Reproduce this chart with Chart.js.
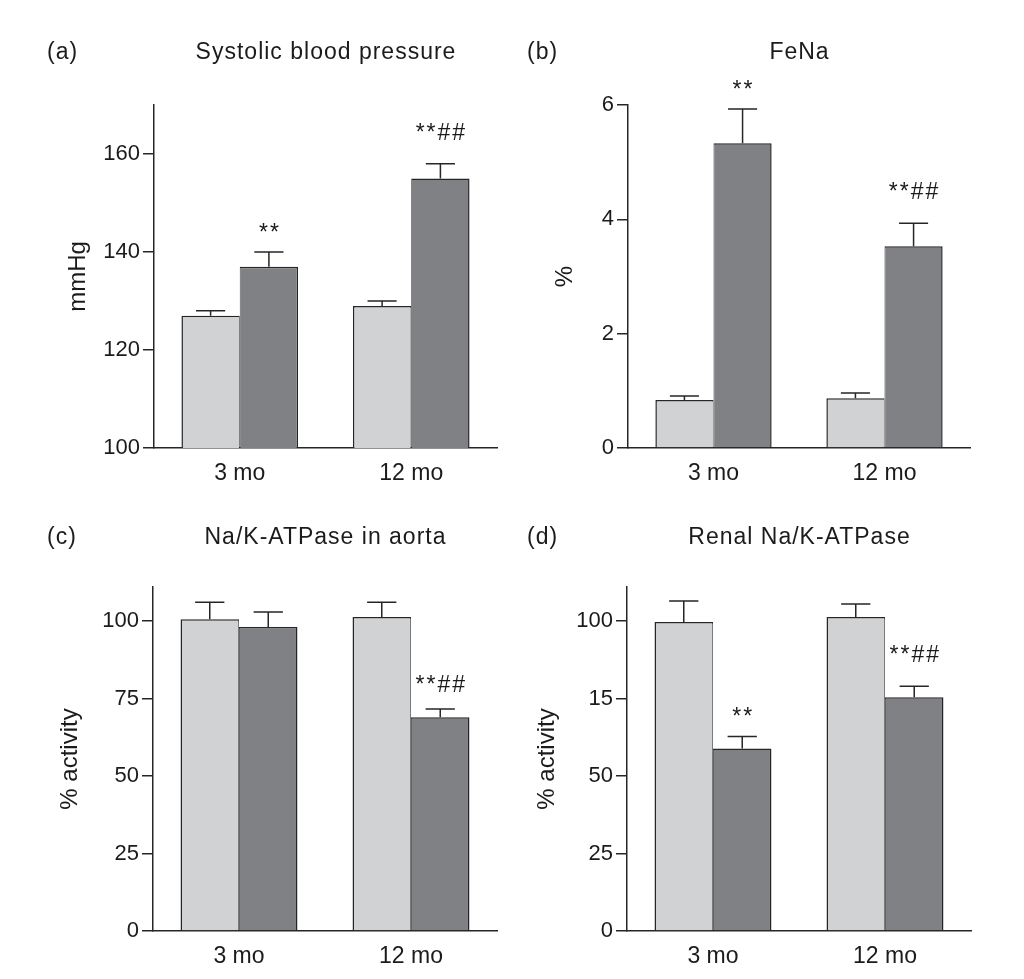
<!DOCTYPE html>
<html><head><meta charset="utf-8">
<script src="https://cdn.jsdelivr.net/npm/chart.js@4.4.0/dist/chart.umd.min.js"></script>
<style>
html,body{margin:0;padding:0;background:#fff;}
#wrap{position:relative;width:1024px;height:979px;overflow:hidden;background:#fff;}
canvas{position:absolute;}
</style></head><body><div id="wrap">
<canvas id="ca" width="512" height="490" style="left:0px;top:0px"></canvas>
<canvas id="cb" width="512" height="490" style="left:512px;top:0px"></canvas>
<canvas id="cc" width="512" height="490" style="left:0px;top:489px"></canvas>
<canvas id="cd" width="512" height="490" style="left:512px;top:489px"></canvas>
</div>
<script>
// ---------- data ----------
const categories = ['3 mo', '12 mo'];

const sbpControl = [127, 129];
const sbpControlErr = [1, 1];
const sbpModel = [137, 155];
const sbpModelErr = [3, 3];
const sbpMarks = ['**', '**##'];
const sbpTicks = [100, 120, 140, 160];

const fenaControl = [0.84, 0.87];
const fenaControlErr = [0.07, 0.09];
const fenaModel = [5.33, 3.53];
const fenaModelErr = [0.6, 0.4];
const fenaMarks = ['**', '**##'];
const fenaTicks = [0, 2, 4, 6];

const aortaControl = [100.6, 101.3];
const aortaControlErr = [5.5, 4.8];
const aortaModel = [98.1, 69.0];
const aortaModelErr = [4.8, 2.6];
const aortaMarks = ['', '**##'];
const aortaTicks = [0, 25, 50, 75, 100];

const renalControl = [99.7, 101.3];
const renalControlErr = [6.8, 4.2];
const renalModel = [58.9, 75.4];
const renalModelErr = [3.9, 3.6];
const renalMarks = ['**', '**##'];
const renalTicks = [0, 25, 50, 75, 100];
const renalTickLabels = ['0', '25', '50', '15', '100'];

// ---------- style ----------
const TEXT = '#1c1a1b', LINE = '#262626', LIGHT = '#d1d2d4', DARK = '#808184';
const FONT = "'Liberation Sans', Arial, Helvetica, sans-serif";

const decoPlugin = {
  id: 'deco',
  afterDatasetsDraw(chart, args, o) {
    const ctx = chart.ctx, ys = chart.scales.y;
    ctx.save();
    chart.data.datasets.forEach((ds, di) => {
      const meta = chart.getDatasetMeta(di);
      meta.data.forEach((el, i) => {
        const top = ys.getPixelForValue(ds.data[i] + ds.errors[i]);
        const half = el.width * 0.25;
        ctx.strokeStyle = LINE; ctx.lineWidth = 1.5;
        ctx.beginPath();
        ctx.moveTo(el.x, el.y); ctx.lineTo(el.x, top);
        ctx.moveTo(el.x - half, top); ctx.lineTo(el.x + half, top);
        ctx.stroke();
        const mark = ds.marks ? ds.marks[i] : '';
        if (mark) {
          ctx.font = '23px ' + FONT;
          ctx.fillStyle = TEXT;
          ctx.textAlign = 'center';
          ctx.textBaseline = 'alphabetic';
          try { ctx.letterSpacing = '2px'; } catch (e) {}
          const gap = mark.indexOf('#') >= 0 ? o.gapDouble : o.gapSingle;
          ctx.fillText(mark, el.x + 1, top - gap);
          try { ctx.letterSpacing = '0px'; } catch (e) {}
        }
      });
    });
    ctx.restore();
  },
  afterDraw(chart, args, o) {
    const ctx = chart.ctx, ca = chart.chartArea;
    ctx.save();
    ctx.fillStyle = TEXT;
    ctx.font = '23px ' + FONT;
    ctx.textBaseline = 'middle';
    try { ctx.letterSpacing = '1px'; } catch (e) {}
    ctx.textAlign = 'left';
    ctx.fillText(o.letter, o.letterX, o.titleY);
    ctx.textAlign = 'center';
    ctx.fillText(o.title, (ca.left + ca.right) / 2 + 0.5, o.titleY);
    try { ctx.letterSpacing = '0px'; } catch (e) {}
    ctx.restore();
  }
};

function makePanel(id, p) {
  const W = 512, H = 490, XH = 40;
  new Chart(document.getElementById(id), {
    type: 'bar',
    data: {
      labels: categories,
      datasets: [
        { data: p.control, errors: p.controlErr, marks: null,
          backgroundColor: LIGHT, borderColor: LINE,
          borderWidth: { top: 1.5, left: 1.5, right: 0.75, bottom: 0 }, borderSkipped: false },
        { data: p.model, errors: p.modelErr, marks: p.marks,
          backgroundColor: DARK, borderColor: LINE,
          borderWidth: { top: 1.5, left: 0.75, right: 1.5, bottom: 0 }, borderSkipped: false }
      ]
    },
    options: {
      responsive: false,
      animation: false,
      events: [],
      layout: { padding: { left: 0, right: W - p.area.r, top: p.area.t, bottom: H - p.area.b - XH } },
      plugins: {
        legend: { display: false },
        tooltip: { enabled: false },
        title: { display: false },
        deco: { letter: p.letter, letterX: p.letterX, title: p.title, titleY: p.titleY,
                gapSingle: p.gapSingle, gapDouble: p.gapDouble }
      },
      datasets: { bar: { categoryPercentage: 0.68, barPercentage: 1.0 } },
      scales: {
        x: {
          type: 'category',
          offset: true,
          grid: { display: false, drawTicks: false },
          border: { display: true, color: LINE, width: 1.5 },
          ticks: { color: TEXT, font: { family: FONT, size: 23 }, padding: 12, maxRotation: 0 },
          afterFit(s) { s.height = XH; }
        },
        y: {
          type: 'linear',
          min: p.yMin, max: p.yMax,
          grid: { display: true, drawOnChartArea: false, drawTicks: true, tickLength: 11, color: LINE, lineWidth: 1.5 },
          border: { display: true, color: LINE, width: 1.5 },
          ticks: {
            color: TEXT, font: { family: FONT, size: 22 }, padding: 3,
            callback(v) { const k = p.ticks.indexOf(v); return p.tickLabels ? p.tickLabels[k] : String(v); }
          },
          afterBuildTicks(s) { s.ticks = p.ticks.map(v => ({ value: v })); },
          title: { display: true, text: p.yTitle, color: TEXT, font: { family: FONT, size: 24 },
                   padding: { top: p.yTitlePad, bottom: 0 } },
          afterFit(s) { s.width = p.area.l; }
        }
      }
    },
    plugins: [decoPlugin]
  });
}

makePanel('ca', {
  control: sbpControl, controlErr: sbpControlErr, model: sbpModel, modelErr: sbpModelErr,
  marks: sbpMarks, ticks: sbpTicks, yMin: 100, yMax: 170,
  area: { l: 154, r: 497, t: 105, b: 448 }, yTitle: 'mmHg', yTitlePad: 63.6,
  letter: '(a)', letterX: 47, title: 'Systolic blood pressure', titleY: 53, gapSingle: 12, gapDouble: 24
});
makePanel('cb', {
  control: fenaControl, controlErr: fenaControlErr, model: fenaModel, modelErr: fenaModelErr,
  marks: fenaMarks, ticks: fenaTicks, yMin: 0, yMax: 6,
  area: { l: 116, r: 458, t: 105, b: 448 }, yTitle: '%', yTitlePad: 38.6,
  letter: '(b)', letterX: 15, title: 'FeNa', titleY: 53, gapSingle: 12, gapDouble: 24
});
makePanel('cc', {
  control: aortaControl, controlErr: aortaControlErr, model: aortaModel, modelErr: aortaModelErr,
  marks: aortaMarks, ticks: aortaTicks, yMin: 0, yMax: 111,
  area: { l: 153, r: 497, t: 98, b: 442 }, yTitle: '% activity', yTitlePad: 55.6,
  letter: '(c)', letterX: 47, title: 'Na/K-ATPase in aorta', titleY: 49, gapSingle: 12, gapDouble: 17
});
makePanel('cd', {
  control: renalControl, controlErr: renalControlErr, model: renalModel, modelErr: renalModelErr,
  marks: renalMarks, ticks: renalTicks, tickLabels: renalTickLabels, yMin: 0, yMax: 111,
  area: { l: 115, r: 459, t: 98, b: 442 }, yTitle: '% activity', yTitlePad: 20.6,
  letter: '(d)', letterX: 15, title: 'Renal Na/K-ATPase', titleY: 49, gapSingle: 12, gapDouble: 24
});
</script>
</body></html>
